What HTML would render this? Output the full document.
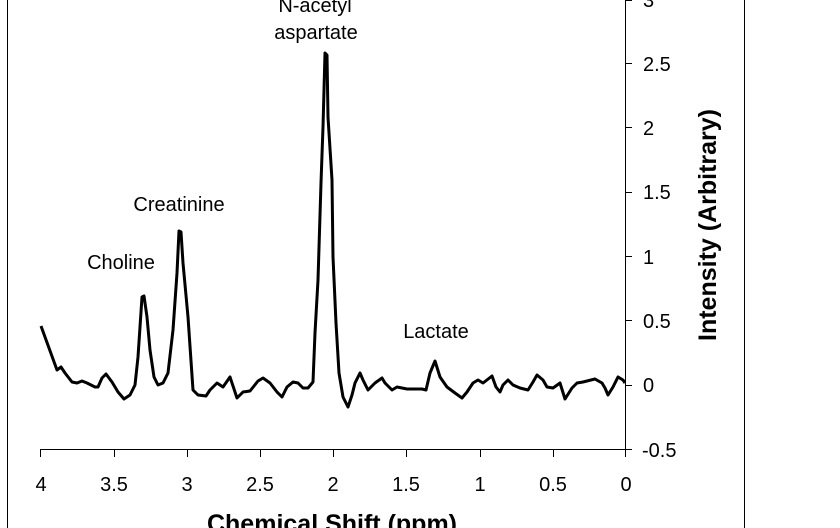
<!DOCTYPE html>
<html><head><meta charset="utf-8"><style>
html,body{margin:0;padding:0;background:#fff;width:840px;height:528px;overflow:hidden}
svg text{font-family:"Liberation Sans",Arial,sans-serif;fill:#000}
</style></head><body>
<svg width="840" height="528" viewBox="0 0 840 528" xmlns="http://www.w3.org/2000/svg">
<rect width="840" height="528" fill="#fff"/>
<line x1="7.5" y1="0" x2="7.5" y2="528" stroke="#000" stroke-width="1"/>
<line x1="744.5" y1="0" x2="744.5" y2="528" stroke="#000" stroke-width="1"/>
<line x1="40" y1="449.5" x2="626" y2="449.5" stroke="#000" stroke-width="1"/>
<line x1="625.5" y1="0" x2="625.5" y2="457" stroke="#000" stroke-width="1"/>
<g stroke="#000" stroke-width="1">
<line x1="40.5" y1="449" x2="40.5" y2="457"/>
<line x1="114.5" y1="449" x2="114.5" y2="457"/>
<line x1="187.5" y1="449" x2="187.5" y2="457"/>
<line x1="260.5" y1="449" x2="260.5" y2="457"/>
<line x1="333.5" y1="449" x2="333.5" y2="457"/>
<line x1="406.5" y1="449" x2="406.5" y2="457"/>
<line x1="480.5" y1="449" x2="480.5" y2="457"/>
<line x1="553.5" y1="449" x2="553.5" y2="457"/>
<line x1="625" y1="449.5" x2="632" y2="449.5"/>
<line x1="625" y1="385.5" x2="632" y2="385.5"/>
<line x1="625" y1="320.5" x2="632" y2="320.5"/>
<line x1="625" y1="256.5" x2="632" y2="256.5"/>
<line x1="625" y1="192.5" x2="632" y2="192.5"/>
<line x1="625" y1="127.5" x2="632" y2="127.5"/>
<line x1="625" y1="63.5" x2="632" y2="63.5"/>
<line x1="625" y1="0.5" x2="632" y2="0.5"/>
</g>
<g font-size="20" text-anchor="middle">
<text x="41" y="491">4</text>
<text x="114" y="491">3.5</text>
<text x="187" y="491">3</text>
<text x="260" y="491">2.5</text>
<text x="333" y="491">2</text>
<text x="406" y="491">1.5</text>
<text x="480" y="491">1</text>
<text x="553" y="491">0.5</text>
<text x="626" y="491">0</text>
</g>
<g font-size="20">
<text x="642" y="457">-0.5</text>
<text x="643" y="392">0</text>
<text x="643" y="328">0.5</text>
<text x="643" y="264">1</text>
<text x="643" y="199">1.5</text>
<text x="643" y="135">2</text>
<text x="643" y="71">2.5</text>
<text x="643" y="7">3</text>
</g>
<text x="332" y="532" font-size="25" font-weight="bold" text-anchor="middle">Chemical Shift (ppm)</text>
<text transform="translate(716,225) rotate(-90)" font-size="25" font-weight="bold" text-anchor="middle">Intensity (Arbitrary)</text>
<g font-size="20" text-anchor="middle">
<text x="315" y="12">N-acetyl</text>
<text x="316" y="39">aspartate</text>
<text x="179" y="211">Creatinine</text>
<text x="121" y="269">Choline</text>
<text x="436" y="338">Lactate</text>
</g>
<polyline fill="none" stroke="#000" stroke-width="3" stroke-linejoin="round" points="
41,326 57,370 61,367 65,373 72,382 77,383 82,381 87,383 95,387 98,387 102,378 106,374 112,382 118,392 124,399 130,395 135,385 138,357 142,297 144,296 147,317 150,350 154,377 158,385 163,383 168,373 173,330 177,273 179,231 181,232 183,263 188,317 193,390 198,395 206,396 210,390 217,383 223,387 230,377 237,398 243,392 250,391 258,381 263,378 270,383 277,392 282,397 287,387 293,382 298,383 303,388 308,388 313,382 315,333 318,280 321,183 323,127 325,53 327,55 328,117 332,180 333,257 336,323 339,373 343,397 348,407 352,395 355,383 360,373 363,380 368,390 375,383 382,378 385,383 392,390 397,387 407,389 422,389 426,390 430,373 435,361 440,377 447,387 455,393 462,398 467,392 473,383 478,380 483,383 492,376 496,387 500,392 503,385 508,380 513,385 520,388 528,390 533,382 537,375 543,380 547,387 553,388 560,383 565,399 572,388 577,383 583,382 595,379 602,383 605,388 608,395 613,387 618,377 623,380 625,383"/>
</svg>
</body></html>
